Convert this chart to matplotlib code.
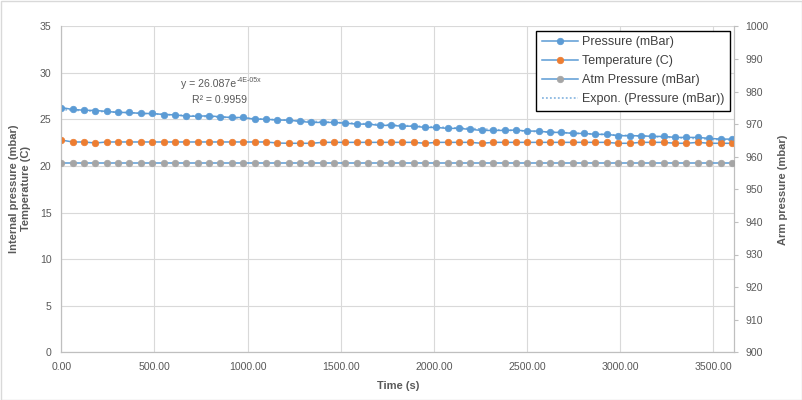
import matplotlib
matplotlib.use("Agg")
import matplotlib.pyplot as plt
from matplotlib.lines import Line2D
from matplotlib.patches import Rectangle
import numpy as np

plt.rcParams['font.family'] = ['Liberation Sans', 'DejaVu Sans']
plt.rcParams['mathtext.default'] = 'regular'

time_s = [0, 61, 122, 183, 244, 305, 366, 427, 488, 549,
          610, 671, 732, 793, 854, 915, 976, 1037, 1098, 1159,
          1220, 1281, 1342, 1403, 1464, 1525, 1586, 1647, 1708, 1769,
          1830, 1891, 1952, 2013, 2074, 2135, 2196, 2257, 2318, 2379,
          2440, 2501, 2562, 2623, 2684, 2745, 2806, 2867, 2928, 2989,
          3050, 3111, 3172, 3233, 3294, 3355, 3416, 3477, 3538, 3599]

pressure = [26.28, 26.07, 25.99, 25.96, 25.86, 25.75, 25.75, 25.64, 25.64, 25.53,
            25.49, 25.35, 25.35, 25.39, 25.28, 25.21, 25.21, 25.03, 25.03, 24.93,
            24.93, 24.79, 24.68, 24.68, 24.68, 24.60, 24.50, 24.50, 24.36, 24.36,
            24.28, 24.28, 24.14, 24.14, 24.04, 24.04, 23.93, 23.82, 23.82, 23.82,
            23.86, 23.75, 23.75, 23.61, 23.61, 23.50, 23.50, 23.40, 23.40, 23.25,
            23.25, 23.25, 23.18, 23.18, 23.07, 23.07, 23.07, 22.97, 22.89, 22.89]

temperature = [22.79, 22.58, 22.58, 22.47, 22.58, 22.58, 22.58, 22.58, 22.58, 22.58,
               22.58, 22.58, 22.58, 22.58, 22.58, 22.58, 22.58, 22.58, 22.58, 22.47,
               22.44, 22.44, 22.44, 22.54, 22.54, 22.54, 22.54, 22.54, 22.54, 22.54,
               22.54, 22.54, 22.44, 22.54, 22.54, 22.54, 22.54, 22.44, 22.54, 22.54,
               22.54, 22.54, 22.54, 22.54, 22.54, 22.54, 22.54, 22.54, 22.54, 22.44,
               22.44, 22.54, 22.54, 22.54, 22.44, 22.44, 22.54, 22.44, 22.44, 22.44]

atm_pressure = [958.2, 958.2, 958.2, 958.2, 958.2, 958.2, 958.2, 958.2, 958.2, 958.2,
                958.2, 958.2, 958.2, 958.2, 958.2, 958.2, 958.2, 958.2, 958.2, 958.2,
                958.2, 958.2, 958.2, 958.2, 958.2, 958.2, 958.2, 958.2, 958.2, 958.2,
                958.2, 958.2, 958.2, 958.2, 958.2, 958.2, 958.2, 958.2, 958.2, 958.2,
                958.2, 958.2, 958.2, 958.2, 958.2, 958.2, 958.2, 958.2, 958.2, 958.2,
                958.2, 958.2, 958.2, 958.2, 958.2, 958.2, 958.2, 958.2, 958.2, 958.2]

x_ticks = [0, 500, 1000, 1500, 2000, 2500, 3000, 3500]
left_ticks = [0, 5, 10, 15, 20, 25, 30, 35]
right_ticks = [900, 910, 920, 930, 940, 950, 960, 970, 980, 990, 1000]

series_names = ['Pressure (mBar)', 'Temperature (C)', 'Atm Pressure (mBar)',
                'Expon. (Pressure (mBar))']
trend_base = 'y = 26.087e'
trend_exp = '-4E-05x'
r2_text = 'R² = 0.9959'

BLUE = '#5B9BD5'
ORANGE = '#ED7D31'
GRAY = '#A5A5A5'
TXT = '#595959'
GRID = '#D9D9D9'
AXC = '#BFBFBF'

W, H = 803, 400
fig = plt.figure(figsize=(W / 100, H / 100), dpi=100)
fig.patches.append(Rectangle((0.5 / W, 0.5 / H), 1 - 1.5 / W, 1 - 1.5 / H,
                             transform=fig.transFigure, fill=False,
                             edgecolor=GRID, linewidth=1.0))

L, R, T, B = 61.3, 734.3, 26.3, 352.3
ax = fig.add_axes([L / W, (H - B) / H, (R - L) / W, (B - T) / H])
ax2 = ax.twinx()

t = np.array(time_s, dtype=float)
p = np.array(pressure)

ms = 4.7
mew = 0.5
lw = 1.1
ax.plot(t, p, color=BLUE, lw=lw, marker='o', ms=ms, mew=mew, mfc=BLUE, mec=BLUE, zorder=3)
ax.plot(t, temperature, color=BLUE, lw=lw, marker='o', ms=ms, mew=mew, mfc=ORANGE, mec=ORANGE, zorder=3)

# exponential trendline fitted to the pressure data
b, lna = np.polyfit(t, np.log(p), 1)
tt = np.linspace(0, 3612, 200)
ax.plot(tt, np.exp(lna) * np.exp(b * tt), color=BLUE, lw=1.3, ls=(0, (1, 1.2)), alpha=0.7, zorder=4)

ax2.plot(t, atm_pressure, color=BLUE, lw=lw, marker='o', ms=ms, mew=mew, mfc=GRAY, mec=GRAY, zorder=3)

ax.set_xlim(0, 3612)
ax.set_ylim(0, 35)
ax2.set_ylim(900, 1000)
ax.set_xticks(x_ticks)
ax.set_xticklabels([f'{v:.2f}' for v in x_ticks])
ax.set_yticks(left_ticks)
ax.set_yticklabels([str(v) for v in left_ticks])
ax2.set_yticks(right_ticks)
ax2.set_yticklabels([str(v) for v in right_ticks])

ax.grid(True, color=GRID, lw=0.8)
ax.set_axisbelow(True)
ax.spines['top'].set_visible(False)
ax2.spines['top'].set_visible(False)
for s in ['left', 'bottom', 'right']:
    ax.spines[s].set_color(AXC)
    ax2.spines[s].set_color(AXC)
    ax.spines[s].set_linewidth(0.8)
    ax2.spines[s].set_linewidth(0.8)

fs = 7.6
ax.tick_params(axis='x', length=0, pad=7, labelsize=fs, labelcolor=TXT)
ax.tick_params(axis='y', length=0, pad=7, labelsize=fs, labelcolor=TXT)
ax2.tick_params(axis='y', length=3, width=0.8, color=AXC, pad=5, labelsize=fs, labelcolor=TXT)

fig.text(397.7 / W, 1 - 386 / H, 'Time (s)', ha='center', va='center',
         fontsize=8, fontweight='bold', color=TXT)
fig.text(20 / W, 1 - 189 / H, 'Internal pressure (mbar)\nTemperature (C)', ha='center',
         va='center', rotation=90, fontsize=8, fontweight='bold', color=TXT,
         multialignment='center', linespacing=1.35)
fig.text(783 / W, 1 - 190 / H, 'Arm pressure (mbar)', ha='center', va='center',
         rotation=90, fontsize=8, fontweight='bold', color=TXT)

t1 = fig.text(181 / W, 1 - 84 / H, trend_base, ha='left', va='center', fontsize=7.6, color=TXT)
fig.texts.append(t1) if False else None
ax.annotate(trend_exp, xy=(1, 1), xycoords=t1, xytext=(0.5, 1.5), textcoords='offset points',
            ha='left', va='top', fontsize=5, color=TXT)
fig.text(220 / W, 1 - 100 / H, r2_text, ha='center', va='center', fontsize=7.6, color=TXT)

handles = [
    Line2D([], [], color=BLUE, lw=lw, marker='o', ms=ms, mew=mew, mfc=BLUE, mec=BLUE),
    Line2D([], [], color=BLUE, lw=lw, marker='o', ms=ms, mew=mew, mfc=ORANGE, mec=ORANGE),
    Line2D([], [], color=BLUE, lw=lw, marker='o', ms=ms, mew=mew, mfc=GRAY, mec=GRAY),
    Line2D([], [], color=BLUE, lw=1.3, ls=(0, (1, 1.2)), alpha=0.7),
]
leg = ax2.legend(handles, series_names, loc='upper right',
                 bbox_to_anchor=((730 - L) / (R - L), 1 - (30.7 - T) / (B - T)),
                 borderaxespad=0, frameon=True, fancybox=False, fontsize=9,
                 handlelength=2.9, handletextpad=0.3, labelspacing=0.55,
                 borderpad=0.45, labelcolor='#404040')
leg.get_frame().set_edgecolor('black')
leg.get_frame().set_linewidth(1.0)
leg.get_frame().set_facecolor('white')
leg.get_frame().set_alpha(1)

fig.savefig('out.png', dpi=100)
